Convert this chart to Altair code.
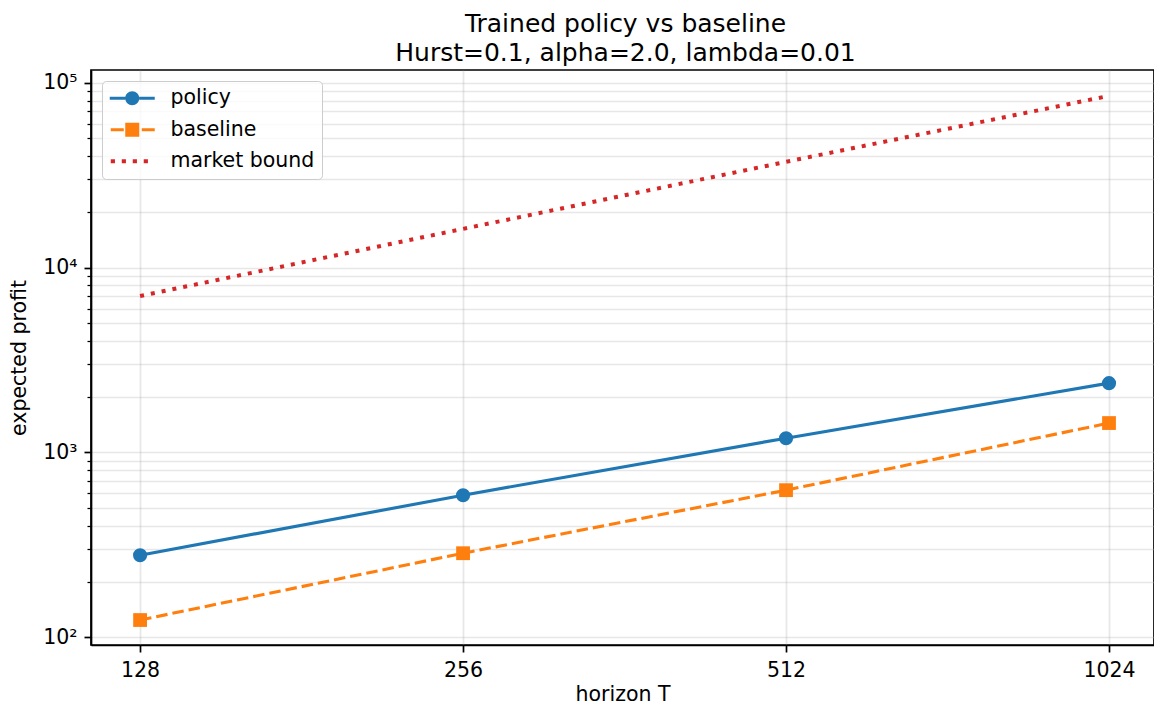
import altair as alt
import pandas as pd

# ---- data ----
horizons = [128, 256, 512, 1024]
policy = [278, 587, 1194, 2371]
baseline = [124, 285, 625, 1442]
market_bound = [7015, 16190, 37330, 84900]

series_names = ["policy", "baseline", "market bound"]
series_colors = ["#1f77b4", "#ff7f0e", "#d62728"]

y_major = [100, 1000, 10000, 100000]
y_minor = [m * 10 ** k for k in (2, 3, 4) for m in range(2, 10)]
y_ticks = sorted(y_major + y_minor)

# legend glyphs (custom symbol paths, unit = 7 px)
legend_paths = [
    # solid line with circle marker
    "M-3.214,-0.22H-1V0.22H-3.214Z M1,-0.22H3.214V0.22H1Z "
    "M-1,0A1,1 0 1,0 1,0A1,1 0 1,0 -1,0Z",
    # dashed line with square marker
    "M-3.07,-0.22H-1.21V0.22H-3.07Z M1.36,-0.22H3.214V0.22H1.36Z "
    "M-1,-1H1V1H-1Z",
    # dotted line
    "M-3.07,-0.3H-2.47V0.3H-3.07Z M-1.5,-0.3H-0.9V0.3H-1.5Z "
    "M0.07,-0.3H0.67V0.3H0.07Z M1.64,-0.3H2.24V0.3H1.64Z",
]

df = pd.DataFrame({
    "T": horizons * 3,
    "value": policy + baseline + market_bound,
    "series": ["policy"] * 4 + ["baseline"] * 4 + ["market bound"] * 4,
})

x_scale = alt.Scale(type="log", base=2, domain=[115.2, 1127.8], nice=False)
y_scale = alt.Scale(type="log", domain=[90.86, 117150], nice=False)

is_major = "datum.value == 100 || datum.value == 1000 || datum.value == 10000 || datum.value == 100000"

x_axis = alt.Axis(
    values=horizons, format="d", title="horizon T", grid=True,
    tickSize=7, tickWidth=1.7, labelPadding=8, titlePadding=4,
)
y_axis = alt.Axis(
    values=y_ticks, title="expected profit", grid=True,
    labelExpr="datum.value == 100 ? '10²' : datum.value == 1000 ? '10³' : "
              "datum.value == 10000 ? '10⁴' : datum.value == 100000 ? '10⁵' : ''",
    tickSize={"condition": {"test": is_major, "value": 7}, "value": 4},
    tickWidth={"condition": {"test": is_major, "value": 1.7}, "value": 1.25},
    labelPadding=7, titlePadding=13,
)

base = alt.Chart(df).encode(
    x=alt.X("T:Q", scale=x_scale, axis=x_axis),
    y=alt.Y("value:Q", scale=y_scale, axis=y_axis),
)

policy_line = base.transform_filter("datum.series == 'policy'").mark_line(
    color=series_colors[0], strokeWidth=3.1)
baseline_line = base.transform_filter("datum.series == 'baseline'").mark_line(
    color=series_colors[1], strokeWidth=3.1, strokeDash=[11.5, 5], strokeCap="butt")
market_line = base.transform_filter("datum.series == 'market bound'").mark_line(
    color=series_colors[2], strokeWidth=4, strokeDash=[4, 7], strokeCap="butt")

policy_pts = base.transform_filter("datum.series == 'policy'").mark_point(
    filled=True, shape="circle", size=200, color=series_colors[0], opacity=1)
baseline_pts = base.transform_filter("datum.series == 'baseline'").mark_point(
    filled=True, shape="square", size=190, color=series_colors[1], opacity=1)

leg = alt.Legend(
    title=None, orient="top-left", offset=11, padding=7,
    strokeColor="#cccccc", fillColor="rgba(255,255,255,0.8)", cornerRadius=4,
    labelFont="DejaVu Sans", labelFontSize=20.5, labelColor="black",
    symbolSize=196, symbolOffset=13, labelOffset=28, rowPadding=10.5,
    symbolStrokeWidth=0,
)
legend_layer = base.transform_filter("false").mark_point(
    filled=True, size=196, opacity=1
).encode(
    color=alt.Color("series:N", scale=alt.Scale(domain=series_names, range=series_colors), legend=leg),
    shape=alt.Shape("series:N", scale=alt.Scale(domain=series_names, range=legend_paths), legend=leg),
)

chart = alt.layer(
    policy_line, baseline_line, market_line, policy_pts, baseline_pts, legend_layer
).properties(
    width=1063, height=575,
    title=alt.Title(
        ["Trained policy vs baseline", "Hurst=0.1, alpha=2.0, lambda=0.01"],
        font="DejaVu Sans", fontSize=25, fontWeight="normal", color="black",
        anchor="middle", baseline="bottom", lineHeight=29, offset=10, dy=31, dx=3,
    ),
    autosize=alt.AutoSizeParams(type="none"),
    padding={"left": 83, "top": 62, "right": 0, "bottom": 60},
).configure_view(
    stroke="black", strokeWidth=1.7
).configure_axis(
    labelFont="DejaVu Sans", labelFontSize=20.5, labelColor="black",
    titleFont="DejaVu Sans", titleFontSize=20.5, titleFontWeight="normal", titleColor="black",
    domainColor="black", domainWidth=1.7, tickColor="black",
    gridColor="#b0b0b0", gridOpacity=0.3, gridWidth=1.7,
)

chart.save("out.html", embed_options={"renderer": "svg", "actions": False})
